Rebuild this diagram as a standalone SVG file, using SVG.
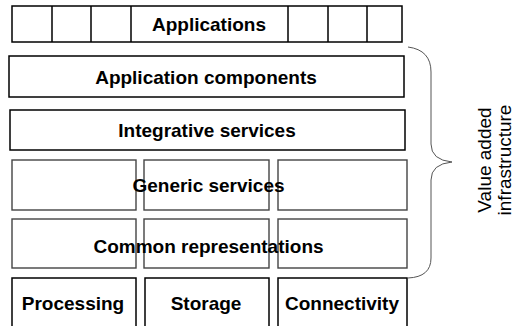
<svg xmlns="http://www.w3.org/2000/svg" width="519" height="326" viewBox="0 0 519 326">
  <style>
    .box { fill: #fff; stroke: #000; stroke-width: 1.5; }
    .soft { fill: none; stroke: #444; stroke-width: 1.4; }
    .label { font-family: "Liberation Sans", Arial, sans-serif; font-weight: bold; font-size: 19px; fill: #000; text-anchor: middle; }
    .side { font-family: "Liberation Sans", Arial, sans-serif; font-size: 19px; fill: #000; text-anchor: middle; }
    .brace { fill: none; stroke: #555; stroke-width: 1; }
  </style>
  <rect width="519" height="326" fill="#fff"/>

  <!-- Applications strip with individual cells -->
  <g id="applications">
    <rect class="box" x="12" y="6" width="390" height="36"/>
    <path class="box" d="M52 6V42M91 6V42M131 6V42M288 6V42M328 6V42M367 6V42"/>
    <text class="label" x="209" y="31">Applications</text>
  </g>

  <g id="application-components">
    <rect class="box" x="9" y="56" width="395" height="41"/>
    <text class="label" x="206" y="84">Application components</text>
  </g>

  <g id="integrative-services">
    <rect class="box" x="10" y="110" width="395" height="40"/>
    <text class="label" x="207" y="137">Integrative services</text>
  </g>

  <g id="generic-services">
    <rect class="soft" x="12" y="160" width="124" height="50"/>
    <rect class="soft" x="144" y="160" width="125" height="50"/>
    <rect class="soft" x="278" y="160" width="129" height="50"/>
    <text class="label" x="208.5" y="192">Generic services</text>
  </g>

  <g id="common-representations">
    <rect class="soft" x="12" y="219" width="124" height="49"/>
    <rect class="soft" x="144" y="219" width="125" height="49"/>
    <rect class="soft" x="278" y="219" width="129" height="49"/>
    <text class="label" x="208.5" y="253">Common representations</text>
  </g>

  <g id="processing">
    <rect class="box" x="12" y="278" width="124" height="60"/>
    <text class="label" x="73" y="310">Processing</text>
  </g>
  <g id="storage">
    <rect class="box" x="145" y="278" width="124" height="60"/>
    <text class="label" x="206" y="310">Storage</text>
  </g>
  <g id="connectivity">
    <rect class="box" x="278" y="278" width="129" height="60"/>
    <text class="label" x="342" y="310">Connectivity</text>
  </g>

  <!-- Brace grouping the value added layers -->
  <g id="connectors">
    <path class="brace" d="M408 47 Q431 50 431 72 L431 144 Q431 160 452 162 Q431 164 431 180 L431 258 Q431 277 408 278"/>
  </g>

  <g id="value-added-infrastructure">
    <text class="side" transform="translate(491 160) rotate(-90)" x="0" y="0">Value added</text>
    <text class="side" transform="translate(511 160) rotate(-90)" x="0" y="0">infrastructure</text>
  </g>
</svg>
